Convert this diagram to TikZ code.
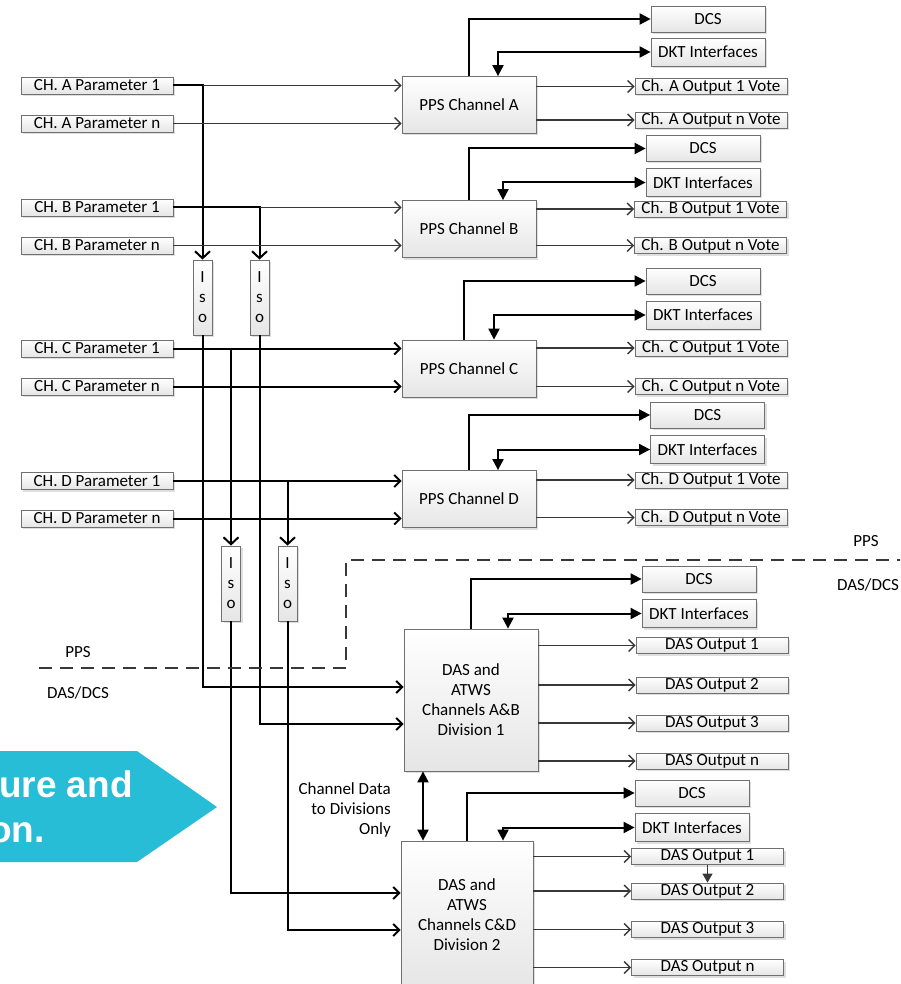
\documentclass[tikz,border=0pt]{standalone}
\usepackage{fontspec}
\setmainfont{Carlito}
\newfontfamily\bannerfont{Liberation Sans}
\usetikzlibrary{arrows.meta,shadows,calc}
\definecolor{bannercyan}{HTML}{27BDD7}
\definecolor{linegray}{HTML}{383838}
\definecolor{boxline}{HTML}{707070}
\begin{document}
\begin{tikzpicture}[x=1pt,y=-1pt,
  every node/.style={font=\fontsize{17}{20}\selectfont},
  gbox/.style={draw=boxline, line width=0.8pt, top color=white, bottom color=black!10,
     drop shadow={shadow xshift=2pt,shadow yshift=-2pt,opacity=0.25}, inner sep=0pt, align=center},
  pbox/.style={gbox, minimum width=152pt, minimum height=17pt},
  obox/.style={gbox, minimum width=152pt, minimum height=16pt},
  ppsbox/.style={gbox, minimum width=134pt, minimum height=57pt},
  dbox/.style={gbox, minimum width=114pt, minimum height=26pt},
  kbox/.style={gbox, minimum width=114pt, minimum height=28pt},
  isobox/.style={gbox, minimum width=19pt, minimum height=75pt},
  fat/.style={line width=2pt, black},
  gline/.style={line width=1.4pt, linegray},
  openarr/.style={-{Straight Barb[length=6pt,width=12pt]}},
  isoarr/.style={-{Straight Barb[length=7pt,width=15pt]}},
  triarr/.style={-{Triangle[length=11pt,width=11pt]}},
  dtri/.style={{Triangle[length=11pt,width=11pt]}-{Triangle[length=11pt,width=11pt]}},
  dashline/.style={line width=1.8pt, linegray, dash pattern=on 13pt off 8pt},
  lbl/.style={inner sep=0pt, align=center}
]
\useasboundingbox (0,0) rectangle (900,984);
\clip (0,0) rectangle (900,984);

% ---- parameter boxes
\node[pbox] (A1) at (97,85.5) {CH. A Parameter 1};
\node[pbox] (An) at (97,123.5) {CH. A Parameter n};
\node[pbox] (B1) at (97,207.5) {CH. B Parameter 1};
\node[pbox] (Bn) at (97,245.5) {CH. B Parameter n};
\node[pbox] (C1) at (97,348.5) {CH. C Parameter 1};
\node[pbox] (Cn) at (97,386.5) {CH. C Parameter n};
\node[pbox] (D1) at (97,481) {CH. D Parameter 1};
\node[pbox] (Dn) at (97,518.5) {CH. D Parameter n};

% ---- PPS channels
\node[ppsbox] (PA) at (469,105) {PPS Channel A};
\node[ppsbox] (PB) at (469,229) {PPS Channel B};
\node[ppsbox] (PC) at (469,368.5) {PPS Channel C};
\node[ppsbox] (PD) at (469,499) {PPS Channel D};

% ---- outputs
\node[obox] (OA1) at (711,86.5) {Ch. A Output 1 Vote};
\node[obox] (OAn) at (711,120) {Ch. A Output n Vote};
\node[obox] (OB1) at (710.5,209) {Ch. B Output 1 Vote};
\node[obox] (OBn) at (710.5,245.5) {Ch. B Output n Vote};
\node[obox] (OC1) at (711,348) {Ch. C Output 1 Vote};
\node[obox] (OCn) at (711,386.5) {Ch. C Output n Vote};
\node[obox] (OD1) at (711,480) {Ch. D Output 1 Vote};
\node[obox] (ODn) at (711,517.5) {Ch. D Output n Vote};

% ---- DCS / DKT
\node[dbox] (DCSA) at (708,19) {DCS};
\node[kbox] (DKTA) at (708,52) {DKT Interfaces};
\node[dbox] (DCSB) at (703,148.5) {DCS};
\node[kbox] (DKTB) at (703,182.5) {DKT Interfaces};
\node[dbox] (DCSC) at (703,281) {DCS};
\node[kbox] (DKTC) at (703,315) {DKT Interfaces};
\node[dbox] (DCSD) at (707.5,415) {DCS};
\node[kbox] (DKTD) at (707.5,449.5) {DKT Interfaces};
\node[dbox] (DCSE) at (699,579) {DCS};
\node[kbox] (DKTE) at (699,613.5) {DKT Interfaces};
\node[dbox] (DCSF) at (692,793) {DCS};
\node[kbox] (DKTF) at (692,827.5) {DKT Interfaces};

% ---- DAS divisions
\node[gbox, minimum width=134pt, minimum height=142pt] (DAS1) at (471,700) {DAS and\\ATWS\\Channels A\&B\\Division 1};
\node[gbox, minimum width=132pt, minimum height=148pt] (DAS2) at (467,915) {DAS and\\ATWS\\Channels C\&D\\Division 2};

\node[obox] (E1) at (712,645.5) {DAS Output 1};
\node[obox] (E2) at (712,685) {DAS Output 2};
\node[obox] (E3) at (712,723) {DAS Output 3};
\node[obox] (En) at (712,761) {DAS Output n};
\node[obox] (F1) at (707.5,856.5) {DAS Output 1};
\node[obox] (F2) at (707.5,891) {DAS Output 2};
\node[obox] (F3) at (707.5,929.5) {DAS Output 3};
\node[obox] (Fn) at (707.5,967.5) {DAS Output n};

% ---- isolators
\node[isobox] (I1) at (202.5,297.5) {I\\s\\o};
\node[isobox] (I2) at (259.5,297.5) {I\\s\\o};
\node[isobox] (I3) at (231,583.5) {I\\s\\o};
\node[isobox] (I4) at (287.5,583.5) {I\\s\\o};

% ---- parameter connectors
\draw[fat,isoarr] (A1.east) -- (A1.east -| I1.north) -- (I1.north);
\draw[gline,openarr] (A1.east -| I1.north) -- (A1 -| PA.west);
\draw[gline,openarr] (An.east) -- (An -| PA.west);
\draw[fat,isoarr] (B1.east) -- (B1.east -| I2.north) -- (I2.north);
\draw[gline,openarr] (B1.east -| I2.north) -- (B1 -| PB.west);
\draw[gline,openarr] (Bn.east) -- (Bn -| PB.west);
\draw[fat,openarr] (C1.east) -- (C1 -| PC.west);
\draw[fat,isoarr] (C1.east -| I3.north) -- (I3.north);
\draw[fat,openarr] (Cn.east) -- (Cn -| PC.west);
\draw[fat,openarr] (D1.east) -- (D1 -| PD.west);
\draw[fat,isoarr] (D1.east -| I4.north) -- (I4.north);
\draw[fat,openarr] (Dn.east) -- (Dn -| PD.west);

% ---- isolators to divisions
\coordinate (d1a) at ($(DAS1.west)+(0,-13)$);
\coordinate (d1b) at ($(DAS1.west)+(0,24)$);
\coordinate (d2a) at ($(DAS2.west)+(0,-22)$);
\coordinate (d2b) at ($(DAS2.west)+(0,15)$);
\draw[fat,openarr] (I1.south) |- (d1a);
\draw[fat,openarr] (I2.south) |- (d1b);
\draw[fat,openarr] (I3.south) |- (d2a);
\draw[fat,openarr] (I4.south) |- (d2b);

% ---- PPS outputs
\draw[gline,openarr] (PA.east |- OA1) -- (OA1.west);
\draw[gline,openarr] (PA.east |- OAn) -- (OAn.west);
\draw[gline,openarr] (PB.east |- OB1) -- (OB1.west);
\draw[gline,openarr] (PB.east |- OBn) -- (OBn.west);
\draw[gline,openarr] (PC.east |- OC1) -- (OC1.west);
\draw[gline,openarr] (PC.east |- OCn) -- (OCn.west);
\draw[gline,openarr] (PD.east |- OD1) -- (OD1.west);
\draw[gline,openarr] (PD.east |- ODn) -- (ODn.west);
\draw[gline,openarr] (DAS1.east |- E1) -- (E1.west);
\draw[gline,openarr] (DAS1.east |- E2) -- (E2.west);
\draw[gline,openarr] (DAS1.east |- E3) -- (E3.west);
\draw[gline,openarr] (DAS1.east |- En) -- (En.west);
\draw[gline,openarr] (DAS2.east |- F1) -- (F1.west);
\draw[gline,openarr] (DAS2.east |- F2) -- (F2.west);
\draw[gline,openarr] (DAS2.east |- F3) -- (F3.west);
\draw[gline,openarr] (DAS2.east |- Fn) -- (Fn.west);

% ---- DCS and DKT links
\draw[fat,triarr] (PA.north) |- (DCSA.west);
\draw[fat,dtri] (DKTA.west) -| ($(PA.north)+(29,0)$);
\draw[fat,triarr] (PB.north) |- (DCSB.west);
\draw[fat,dtri] (DKTB.west) -| ($(PB.north)+(34,0)$);
\draw[fat,triarr] ($(PC.north)+(-5,0)$) |- (DCSC.west);
\draw[fat,dtri] (DKTC.west) -| ($(PC.north)+(25,0)$);
\draw[fat,triarr] (PD.north) |- (DCSD.west);
\draw[fat,dtri] (DKTD.west) -| ($(PD.north)+(29,0)$);
\draw[fat,triarr] (DAS1.north) |- (DCSE.west);
\draw[fat,dtri] (DKTE.west) -| ($(DAS1.north)+(37,0)$);
\draw[fat,triarr] (DAS2.north) |- (DCSF.west);
\draw[fat,dtri] (DKTF.west) -| ($(DAS2.north)+(36,0)$);

% ---- division link
\coordinate (dd) at ($(DAS1.south)+(-48,0)$);
\draw[fat,dtri] (dd) -- (dd |- DAS2.north);
\draw[gline,-{Triangle[length=9pt,width=10pt]}] (F1.south) -- (F1.south |- F2.north);

% ---- boundary
\coordinate (bl) at (39,668);
\coordinate (bc) at (346,560);
\coordinate (br) at (905,560);
\draw[dashline] (bl) -| (bc) -- (br);
\node[lbl] (ppsl) at (78,652) {PPS};
\node[lbl] (dasl) at (78,693) {DAS/DCS};
\node[lbl] (ppsr) at (866,541) {PPS};
\node[lbl] (dasr) at (868,585) {DAS/DCS};
\node[lbl, anchor=east, align=right] (chd) at (391,810) {Channel Data\\to Divisions\\Only};

% ---- banner
\fill[bannercyan] (-5,751) -- (137,751) -- (217,807) -- (137,862) -- (-5,862) -- cycle;
\node[inner sep=0pt, anchor=base east, text=white, font=\bannerfont\bfseries\fontsize{37}{42}\selectfont] (ban1) at (133,797) {ure and};
\node[inner sep=0pt, anchor=base east, text=white, font=\bannerfont\bfseries\fontsize{37}{42}\selectfont] (ban2) at (45,842) {on.};
\end{tikzpicture}
\end{document}
